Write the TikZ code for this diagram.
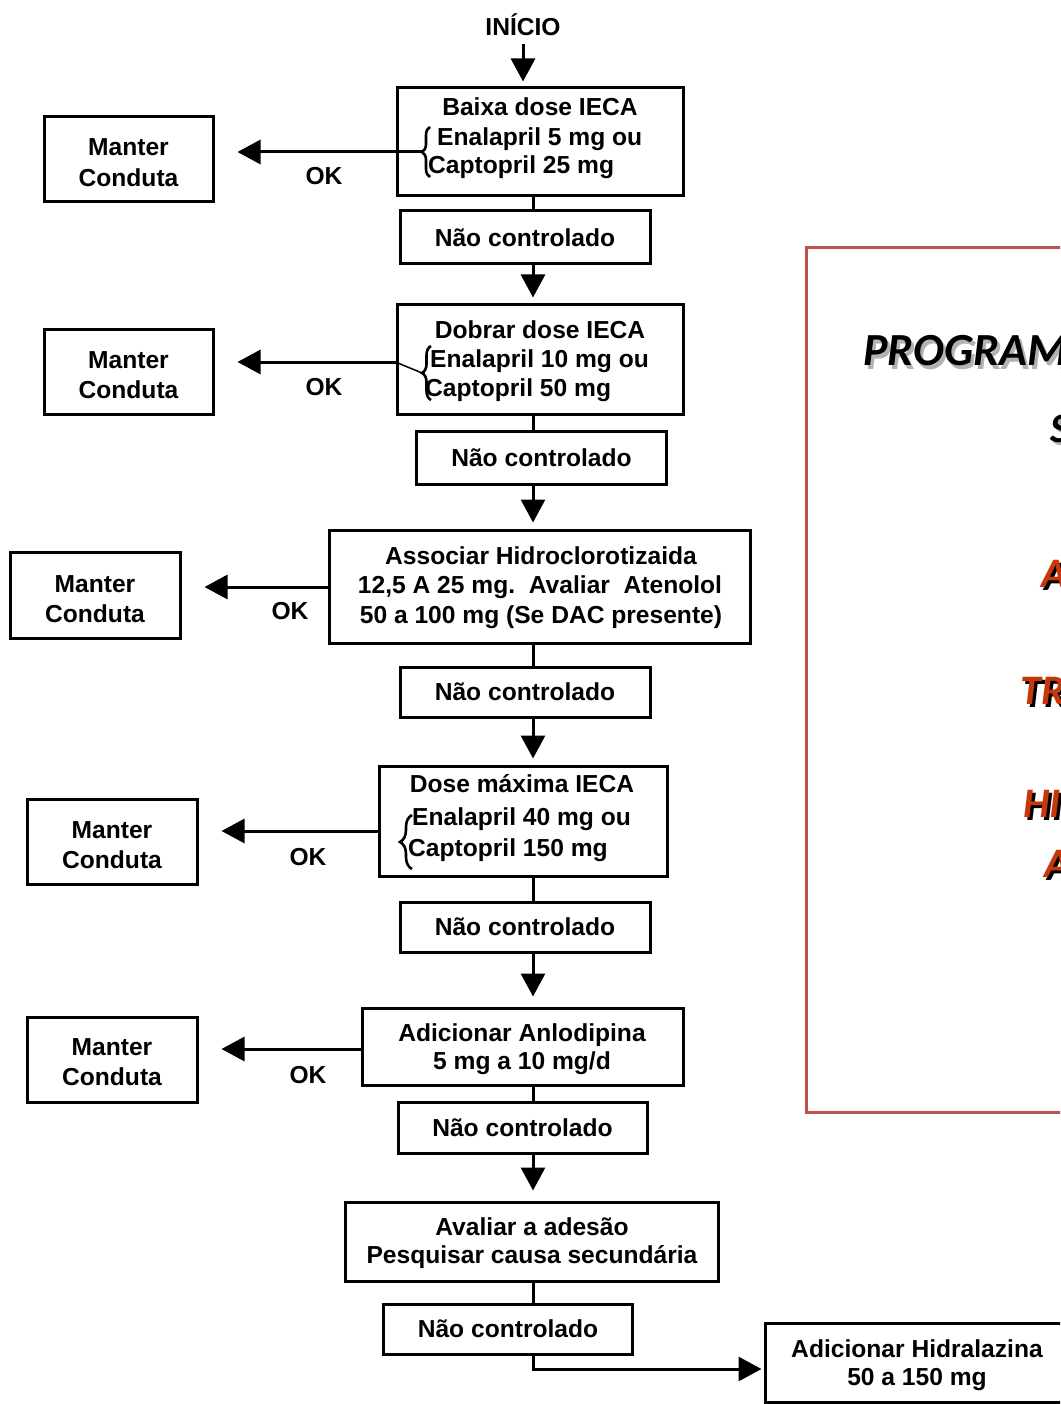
\documentclass[tikz,border=0pt]{standalone}
\usepackage{fontspec}
\setmainfont{Liberation Sans}
\newfontfamily\calib{Carlito}
\usetikzlibrary{arrows.meta,decorations.pathreplacing}
\definecolor{panelred}{HTML}{C0504D}
\definecolor{txtred}{RGB}{200,55,10}
\begin{document}
\begin{tikzpicture}[x=1pt,y=-1pt,
  box/.style={draw, line width=3pt, inner sep=0pt, font=\bfseries\fontsize{24.6}{29}\selectfont, text height=17.5pt, text depth=0pt},
  txt/.style={inner sep=0pt, font=\bfseries\fontsize{24.6}{29}\selectfont, text height=17.5pt, text depth=0pt},
  conn/.style={line width=3pt},
  arr/.style={line width=3pt, -{Triangle[length=23pt,width=24pt]}, shorten >=6pt},
  side/.style={line width=3pt, -{Triangle[length=23pt,width=24pt]}, shorten >=23pt},
  brc/.style={decorate, decoration={brace, amplitude=#1}, line width=2.6pt},
  big/.style={anchor=base west, inner sep=0pt, font=\calib\bfseries\itshape\fontsize{46}{50}\selectfont},
  redl/.style={anchor=base west, inner sep=0pt, font=\calib\bfseries\itshape\fontsize{42}{46}\selectfont},
]
\useasboundingbox (0,0) rectangle (1060,1404);
\clip (0,0) rectangle (1060,1404);
\fill[white] (0,0) rectangle (1060,1404);
\coordinate (sp) at (533,0);

% start
\node[txt] (start) at (523,27) {INÍCIO};

% step 1
\node[box, minimum width=286pt, minimum height=108pt] (b1) at (540,142) {};
\node[txt] (b1a) at (540,107) {Baixa dose IECA};
\node[txt, anchor=west] (b1b) at (437,137) {Enalapril 5 mg ou};
\node[txt, anchor=west] (b1c) at (428,165) {Captopril 25 mg};
\draw[brc=8pt] (430,177) -- (430,127);
\coordinate (t1) at (422,152);
\node[box, minimum width=169pt, minimum height=85pt] (m1) at (128.5,159.5) {};
\node[txt] (m1a) at (128.5,147) {Manter};
\node[txt] (m1b) at (128.5,178) {Conduta};
\node[txt] (ok1) at (324,176) {OK};
\node[box, minimum width=250pt, minimum height=53pt] (nc1) at (525,237.5) {Não controlado};

% step 2
\node[box, minimum width=286pt, minimum height=109pt] (b2) at (540,359.5) {};
\node[txt] (b2a) at (540,330) {Dobrar dose IECA};
\node[txt, anchor=west] (b2b) at (430,359) {Enalapril 10 mg ou};
\node[txt, anchor=west] (b2c) at (425,388) {Captopril 50 mg};
\draw[brc=9pt] (431,400) -- (431,346);
\coordinate (t2) at (422,373);
\node[box, minimum width=169pt, minimum height=85pt] (m2) at (128.5,371.5) {};
\node[txt] (m2a) at (128.5,360) {Manter};
\node[txt] (m2b) at (128.5,390) {Conduta};
\node[txt] (ok2) at (324,387) {OK};
\node[box, minimum width=250pt, minimum height=53pt] (nc2) at (541.5,457.5) {Não controlado};

% step 3
\node[box, minimum width=421pt, minimum height=113pt] (b3) at (539.5,586.5) {};
\node[txt] (b3a) at (541,556) {Associar Hidroclorotizaida};
\node[txt] (b3b) at (540,585) {12,5 A 25 mg.\ \ Avaliar\ \ Atenolol};
\node[txt] (b3c) at (541,615) {50 a 100 mg (Se DAC presente)};
\node[box, minimum width=170pt, minimum height=86pt] (m3) at (95,595) {};
\node[txt] (m3a) at (95,584) {Manter};
\node[txt] (m3b) at (95,614) {Conduta};
\node[txt] (ok3) at (290,611) {OK};
\node[box, minimum width=250pt, minimum height=50pt] (nc3) at (525,692) {Não controlado};

% step 4
\node[box, minimum width=288pt, minimum height=110pt] (b4) at (523,821) {};
\node[txt] (b4a) at (522,784) {Dose máxima IECA};
\node[txt, anchor=west] (b4b) at (412,817) {Enalapril 40 mg ou};
\node[txt, anchor=west] (b4c) at (408,848) {Captopril 150 mg};
\draw[brc=12pt] (412,869) -- (412,815);
\node[box, minimum width=170pt, minimum height=85pt] (m4) at (112,841.5) {};
\node[txt] (m4a) at (112,830) {Manter};
\node[txt] (m4b) at (112,860) {Conduta};
\node[txt] (ok4) at (308,857) {OK};
\node[box, minimum width=250pt, minimum height=50pt] (nc4) at (525,927) {Não controlado};

% step 5
\node[box, minimum width=321pt, minimum height=77pt] (b5) at (522.5,1046.5) {};
\node[txt] (b5a) at (522,1033) {Adicionar Anlodipina};
\node[txt] (b5b) at (522,1061) {5 mg a 10 mg/d};
\node[box, minimum width=170pt, minimum height=85pt] (m5) at (112,1059.5) {};
\node[txt] (m5a) at (112,1047) {Manter};
\node[txt] (m5b) at (112,1077) {Conduta};
\node[txt] (ok5) at (308,1075) {OK};
\node[box, minimum width=249pt, minimum height=51pt] (nc5) at (522.5,1127.5) {Não controlado};

% step 6
\node[box, minimum width=373pt, minimum height=79pt] (b6) at (532,1241.5) {};
\node[txt] (b6a) at (532,1227) {Avaliar a adesão};
\node[txt] (b6b) at (532,1255) {Pesquisar causa secundária};
\node[box, minimum width=249pt, minimum height=50pt] (nc6) at (508,1329) {Não controlado};

% step 7
\node[box, minimum width=304pt, minimum height=79pt] (b7) at (917,1362.5) {};
\node[txt] (b7a) at (917,1349) {Adicionar Hidralazina};
\node[txt] (b7b) at (917,1377) {50 a 150 mg};

% vertical connectors
\draw[arr, shorten >=5pt] (start.south |- 0,44) -- (start.south |- b1.north);
\draw[conn] (b1.south -| sp) -- (nc1.north -| sp);
\draw[arr] (nc1.south -| sp) -- (b2.north -| sp);
\draw[conn] (b2.south -| sp) -- (nc2.north -| sp);
\draw[arr] (nc2.south -| sp) -- (b3.north -| sp);
\draw[conn] (b3.south -| sp) -- (nc3.north -| sp);
\draw[arr] (nc3.south -| sp) -- (b4.north -| sp);
\draw[conn] (b4.south -| sp) -- (nc4.north -| sp);
\draw[arr, shorten >=10pt] (nc4.south -| sp) -- (b5.north -| sp);
\draw[conn] (b5.south -| sp) -- (nc5.north -| sp);
\draw[arr, shorten >=10pt] (nc5.south -| sp) -- (b6.north -| sp);
\draw[conn] (b6.south -| sp) -- (nc6.north -| sp);
\draw[arr, shorten >=2pt] (nc6.south -| sp) |- (b7.west |- 0,1369);

% side connectors
\draw[side] (t1) -- (t1 -| m1.east);
\draw[line width=1.5pt] (t2) -- (b2.west |- 0,362);
\draw[side] (b2.west |- 0,362) -- (m2.east |- 0,362);
\draw[side] (b3.west |- 0,587) -- (m3.east |- 0,587);
\draw[side] (b4.west |- 0,831) -- (m4.east |- 0,831);
\draw[side] (b5.west |- 0,1049) -- (m5.east |- 0,1049);

% right panel
\node[draw=panelred, line width=3pt, minimum width=269pt, minimum height=864pt, inner sep=0pt] (panel) at (940.5,680) {};
\node[big, text=black!30] (p1s) at (866,369) {PROGRAM};
\node[big, text=black] (p1) at (863,365) {PROGRAM};
\node[redl, text=black!30] (p2s) at (1053,445) {S};
\node[redl, text=black] (p2) at (1050,442) {S};
\node[redl, text=black] (p3s) at (1044,590) {A};
\node[redl, text=txtred] (p3) at (1041,587) {A};
\node[redl, text=black] (p4s) at (1023,707) {TR};
\node[redl, text=txtred] (p4) at (1020,704) {TR};
\node[redl, text=black] (p5s) at (1026,820) {HI};
\node[redl, text=txtred] (p5) at (1023,817) {HI};
\node[redl, text=black] (p6s) at (1047,880) {A};
\node[redl, text=txtred] (p6) at (1044,877) {A};
\end{tikzpicture}
\end{document}
